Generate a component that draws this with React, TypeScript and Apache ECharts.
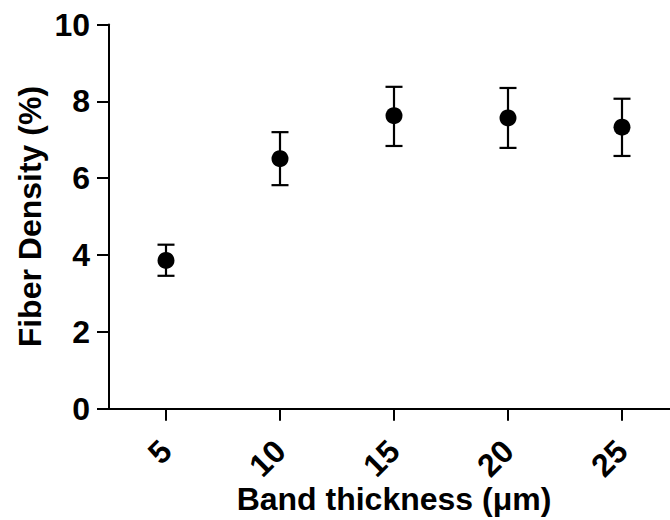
import React, { useEffect, useRef } from "react";
import * as echarts from "echarts";

const categories = ["5", "10", "15", "20", "25"];
const means = [3.86, 6.51, 7.63, 7.57, 7.33];
const upper = [4.27, 7.2, 8.38, 8.35, 8.07];
const lower = [3.46, 5.82, 6.84, 6.79, 6.58];
const yTicks = { min: 0, max: 10, interval: 2 };

const FONT = "'Liberation Sans', Arial, sans-serif";

export default function App() {
  const ref = useRef<HTMLDivElement>(null);
  useEffect(() => {
    if (!ref.current) return;
    const chart = echarts.init(ref.current, null, { renderer: "svg" });
    const errData = categories.map((c, i) => [i, lower[i], upper[i]]);
    chart.setOption({
      animation: false,
      backgroundColor: "#ffffff",
      grid: {
        left: 109,
        right: 11,
        top: 24.6,
        bottom: 111.3,
        containLabel: false,
        outerBoundsMode: "none",
      },
      xAxis: {
        type: "category",
        data: categories,
        boundaryGap: true,
        name: "Band thickness (μm)",
        nameLocation: "middle",
        nameGap: 74,
        nameMoveOverlap: false,
        nameTextStyle: { fontFamily: FONT, fontWeight: "bold", fontSize: 32, color: "#000" },
        axisLine: { show: true, lineStyle: { color: "#000", width: 2 } },
        axisTick: { show: true, alignWithLabel: true, length: 12, lineStyle: { color: "#000", width: 2 } },
        axisLabel: {
          rotate: 45,
          margin: 37,
          fontFamily: FONT,
          fontWeight: "bold",
          fontSize: 32,
          color: "#000",
        },
        splitLine: { show: false },
      },
      yAxis: {
        type: "value",
        min: yTicks.min,
        max: yTicks.max,
        interval: yTicks.interval,
        name: "Fiber Density (%)",
        nameLocation: "middle",
        nameGap: 63,
        nameMoveOverlap: false,
        nameTextStyle: { fontFamily: FONT, fontWeight: "bold", fontSize: 32, color: "#000" },
        axisLine: { show: true, lineStyle: { color: "#000", width: 2 } },
        axisTick: { show: true, length: 12, lineStyle: { color: "#000", width: 2 } },
        axisLabel: {
          margin: 19,
          fontFamily: FONT,
          fontWeight: "bold",
          fontSize: 32,
          color: "#000",
        },
        splitLine: { show: false },
      },
      series: [
        {
          type: "custom",
          data: errData,
          z: 2,
          renderItem: (params: any, api: any) => {
            const x = api.value(0);
            const lo = api.coord([x, api.value(1)]);
            const hi = api.coord([x, api.value(2)]);
            const half = 8.5;
            const style = { stroke: "#000", lineWidth: 2.2 };
            return {
              type: "group",
              children: [
                { type: "line", shape: { x1: lo[0], y1: lo[1], x2: hi[0], y2: hi[1] }, style },
                { type: "line", shape: { x1: hi[0] - half, y1: hi[1], x2: hi[0] + half, y2: hi[1] }, style },
                { type: "line", shape: { x1: lo[0] - half, y1: lo[1], x2: lo[0] + half, y2: lo[1] }, style },
              ],
            };
          },
        },
        {
          type: "scatter",
          data: means,
          symbol: "circle",
          symbolSize: 17,
          z: 3,
          itemStyle: { color: "#000", opacity: 1 },
        },
      ],
    });
    return () => chart.dispose();
  }, []);
  return (
    <div style={{ position: "fixed", left: 0, top: 0, width: 670, height: 520, overflow: "hidden", background: "#fff" }}>
      <div ref={ref} style={{ width: 690, height: 520 }} />
    </div>
  );
}
